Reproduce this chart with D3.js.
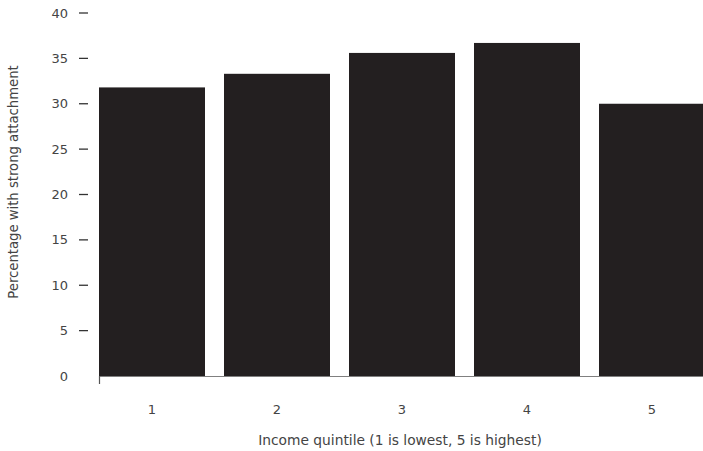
<!DOCTYPE html>
<html>
<head>
<meta charset="utf-8">
<script src="https://cdn.jsdelivr.net/npm/d3@7"></script>
<style>
  body { margin: 0; background: #fff; }
  svg { display: block; font-family: "DejaVu Sans", sans-serif; }
</style>
</head>
<body>
<svg id="chart" width="703" height="451"></svg>
<script>
// Chart data
const quintiles = ["1", "2", "3", "4", "5"];
const strongAttachment = [31.8, 33.3, 35.6, 36.7, 30.0];
const yTicks = [0, 5, 10, 15, 20, 25, 30, 35, 40];

const svg = d3.select("#chart");

// Scales
const x = d3.scaleBand().domain(quintiles).range([99, 705]).paddingInner(0.152).paddingOuter(0);
const y = d3.scaleLinear().domain([0, 40]).range([376, 13]);

// Bars
svg.selectAll(".bar")
  .data(quintiles)
  .enter().append("rect")
  .attr("class", "bar")
  .attr("x", d => x(d))
  .attr("width", x.bandwidth())
  .attr("y", (d, i) => y(strongAttachment[i]))
  .attr("height", (d, i) => y(0) - y(strongAttachment[i]))
  .attr("fill", "#231f20");

// Baseline axis
svg.append("line")
  .attr("x1", 99).attr("x2", 703)
  .attr("y1", y(0) + 0.5).attr("y2", y(0) + 0.5)
  .attr("stroke", "#808080").attr("stroke-width", 1.2);
svg.append("line")
  .attr("x1", 99.5).attr("x2", 99.5)
  .attr("y1", y(0)).attr("y2", y(0) + 8)
  .attr("stroke", "#555").attr("stroke-width", 1.2);

// Y ticks: label plus a short dash (none beside 0)
const yt = svg.selectAll(".ytick").data(yTicks).enter().append("g").attr("class", "ytick");
yt.append("text")
  .attr("x", 68).attr("y", d => y(d))
  .attr("dy", "0.35em")
  .attr("text-anchor", "end")
  .attr("font-size", 13)
  .attr("fill", "#444")
  .text(d => d);
yt.filter(d => d !== 0).append("line")
  .attr("x1", 79).attr("x2", 88)
  .attr("y1", d => y(d)).attr("y2", d => y(d))
  .attr("stroke", "#333").attr("stroke-width", 1.3);

// X labels
svg.selectAll(".xlabel")
  .data(quintiles)
  .enter().append("text")
  .attr("x", d => x(d) + x.bandwidth() / 2)
  .attr("y", 409).attr("dy", "0.35em")
  .attr("text-anchor", "middle")
  .attr("font-size", 13)
  .attr("fill", "#444")
  .text(d => d);

// Axis titles
svg.append("text")
  .attr("x", 400).attr("y", 440).attr("dy", "0.35em")
  .attr("text-anchor", "middle")
  .attr("font-size", 13.8)
  .attr("fill", "#444")
  .text("Income quintile (1 is lowest, 5 is highest)");

svg.append("text")
  .attr("transform", "translate(13,182) rotate(-90)")
  .attr("dy", "0.35em")
  .attr("text-anchor", "middle")
  .attr("font-size", 13.2)
  .attr("fill", "#444")
  .text("Percentage with strong attachment");
</script>
</body>
</html>
